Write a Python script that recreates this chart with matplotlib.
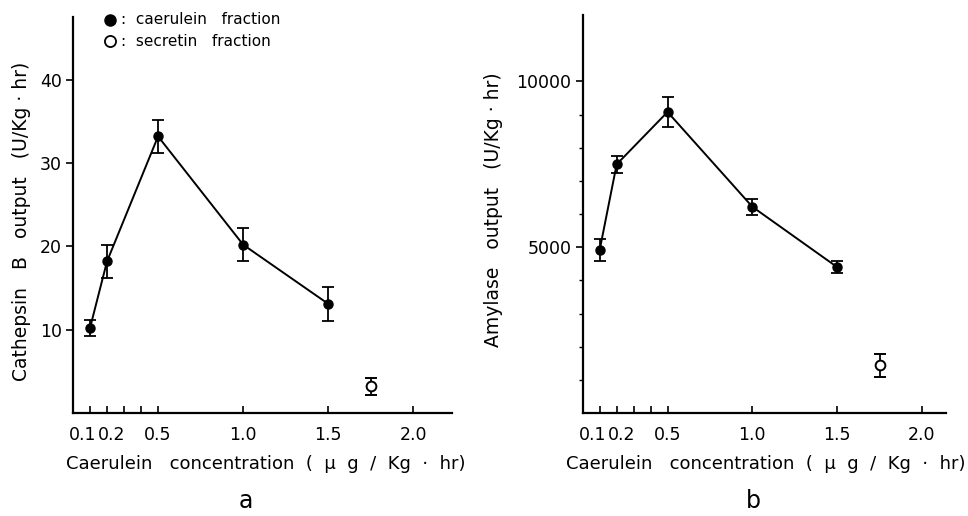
import matplotlib
matplotlib.use('Agg')
import matplotlib.pyplot as plt
from matplotlib.ticker import FixedLocator
from matplotlib.transforms import ScaledTranslation

plt.rcParams['font.family'] = ['DejaVu Sans']

# caerulein doses (ug/Kg.hr) and the separate secretin point
doses = [0.1, 0.2, 0.5, 1.0, 1.5]
secretin_x = [1.75]

# cathepsin B output (U/Kg.hr)
cathepsin = [10.2, 18.2, 33.2, 20.2, 13.1]
cathepsin_err = [1.0, 2.0, 2.0, 2.0, 2.0]
cathepsin_sec = [3.2]
cathepsin_sec_err = [1.0]

# amylase output (U/Kg.hr)
amylase = [4920, 7500, 9080, 6220, 4400]
amylase_err = [340, 250, 460, 240, 190]
amylase_sec = [1440]
amylase_sec_err = [340]

x_ticks = [0.1, 0.2, 0.5, 1.0, 1.5, 2.0]
x_tick_labels = ['0.1', '0.2', '0.5', '1.0', '1.5', '2.0']
x_minor = [0.3, 0.4]

xlabel = 'Caerulein   concentration  (  \u03bc  g  /  Kg  \u00b7  hr)'


def draw_panel(fig, ax, y, yerr, ysec, ysec_err):
    ax.errorbar(doses, y, yerr=yerr, color='black', marker='o', markersize=6.5,
                linewidth=1.4, elinewidth=1.3, capsize=4.5, capthick=1.3)
    ax.errorbar(secretin_x, ysec, yerr=ysec_err, color='black', marker='o',
                markersize=7, markerfacecolor='white', markeredgewidth=1.4,
                linestyle='none', elinewidth=1.3, capsize=4.5, capthick=1.3)
    for side in ('top', 'right'):
        ax.spines[side].set_visible(False)
    for side in ('left', 'bottom'):
        ax.spines[side].set_linewidth(1.6)
    ax.set_xticks(x_ticks)
    ax.set_xticklabels(x_tick_labels)
    ax.xaxis.set_minor_locator(FixedLocator(x_minor))
    ax.tick_params(axis='x', which='both', direction='in', length=5, width=1.2,
                   labelsize=12.5, pad=9)
    ax.tick_params(axis='y', which='major', direction='out', length=5, width=1.2,
                   labelsize=12.5, pad=3)
    ax.tick_params(axis='y', which='minor', direction='out', length=3, width=1)
    # 0.1 and 0.2 sit right next to each other, push them apart a bit
    labels = ax.get_xticklabels()
    labels[0].set_transform(labels[0].get_transform() +
                            ScaledTranslation(-7 / 100, 0, fig.dpi_scale_trans))
    labels[1].set_transform(labels[1].get_transform() +
                            ScaledTranslation(5 / 100, 0, fig.dpi_scale_trans))
    ax.set_xlabel(xlabel, fontsize=13)


fig = plt.figure(figsize=(9.68, 5.16), dpi=100)

ax_a = fig.add_axes([0.0754, 0.1996, 0.392, 0.767])
draw_panel(fig, ax_a, cathepsin, cathepsin_err, cathepsin_sec, cathepsin_sec_err)
ax_a.set_xlim(0, 2.23)
ax_a.set_ylim(0, 47.5)
ax_a.set_yticks([10, 20, 30, 40])
ax_a.set_ylabel('Cathepsin   B   output   (U/Kg \u00b7 hr)', fontsize=13.5)
ax_a.xaxis.set_label_coords(0.507, -0.105)
ax_a.yaxis.set_label_coords(-0.111, 0.485)

ax_b = fig.add_axes([0.602, 0.1996, 0.375, 0.771])
draw_panel(fig, ax_b, amylase, amylase_err, amylase_sec, amylase_sec_err)
ax_b.set_xlim(0, 2.14)
ax_b.set_ylim(0, 12000)
ax_b.set_yticks([5000, 10000])
ax_b.yaxis.set_minor_locator(FixedLocator([1000, 2000, 3000, 4000, 6000,
                                           7000, 8000, 9000]))
ax_b.set_ylabel('Amylase   output   (U/Kg \u00b7 hr)', fontsize=13.5)
ax_b.xaxis.set_label_coords(0.504, -0.105)
ax_b.yaxis.set_label_coords(-0.22, 0.51)

# legend written as text, as in the original figure
ax_a.plot([0.216], [47.2], marker='o', color='black', markersize=8,
          clip_on=False, linestyle='none')
ax_a.plot([0.216], [44.6], marker='o', color='black', markerfacecolor='white',
          markeredgewidth=1.3, markersize=8, clip_on=False, linestyle='none')
ax_a.text(0.285, 47.2, ':  caerulein   fraction', fontsize=11, va='center')
ax_a.text(0.285, 44.6, ':  secretin   fraction', fontsize=11, va='center')

fig.text(0.254, 0.016, 'a', fontsize=17, ha='center', va='baseline')
fig.text(0.778, 0.016, 'b', fontsize=17, ha='center', va='baseline')

fig.savefig('out.png', dpi=100)
